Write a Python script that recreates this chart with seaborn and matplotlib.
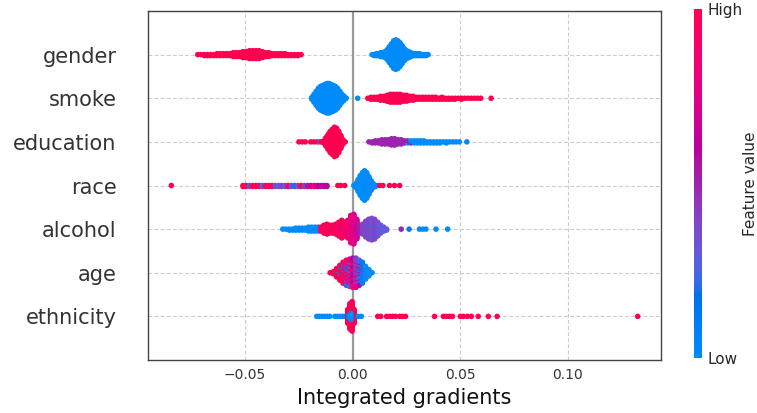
import numpy as np
import pandas as pd
import matplotlib
matplotlib.use("Agg")
import matplotlib.pyplot as plt
from matplotlib.colors import LinearSegmentedColormap, Normalize
from matplotlib.cm import ScalarMappable
import seaborn as sns

features = ["gender", "smoke", "education", "race", "alcohol", "age", "ethnicity"]

# Each entry: (integrated-gradient value, number of samples, normalised feature value 0=low .. 1=high)
gender = [
    (-0.0720, 1, 1.0), (-0.0705, 1, 1.0), (-0.0690, 2, 1.0), (-0.0675, 2, 1.0), (-0.0660, 2, 1.0),
    (-0.0645, 2, 1.0), (-0.0630, 3, 1.0), (-0.0615, 3, 1.0), (-0.0600, 3, 1.0), (-0.0585, 3, 1.0),
    (-0.0570, 3, 1.0), (-0.0555, 5, 1.0), (-0.0540, 5, 1.0), (-0.0525, 5, 1.0), (-0.0510, 7, 1.0),
    (-0.0495, 7, 1.0), (-0.0480, 9, 1.0), (-0.0465, 9, 1.0), (-0.0450, 9, 1.0), (-0.0435, 9, 1.0),
    (-0.0420, 7, 1.0), (-0.0405, 5, 1.0), (-0.0390, 5, 1.0), (-0.0375, 3, 1.0), (-0.0360, 3, 1.0),
    (-0.0345, 3, 1.0), (-0.0330, 3, 1.0), (-0.0315, 3, 1.0), (-0.0300, 2, 1.0), (-0.0285, 2, 1.0),
    (-0.0270, 2, 1.0), (-0.0255, 2, 1.0), (-0.0240, 1, 1.0),
    (0.0090, 1, 0.0), (0.0100, 2, 0.0), (0.0110, 3, 0.0), (0.0120, 3, 0.0), (0.0130, 5, 0.0),
    (0.0140, 5, 0.0), (0.0150, 7, 0.0), (0.0160, 11, 0.0), (0.0170, 17, 0.0), (0.0180, 23, 0.0),
    (0.0190, 29, 0.0), (0.0200, 31, 0.0), (0.0210, 29, 0.0), (0.0220, 25, 0.0), (0.0230, 19, 0.0),
    (0.0240, 13, 0.0), (0.0250, 9, 0.0), (0.0260, 7, 0.0), (0.0270, 5, 0.0), (0.0280, 3, 0.0),
    (0.0290, 3, 0.0), (0.0300, 3, 0.0), (0.0310, 3, 0.0), (0.0320, 2, 0.0), (0.0330, 2, 0.0),
    (0.0340, 2, 0.0), (0.0350, 1, 0.0),
]

smoke = [
    (-0.0190, 3, 0.0), (-0.0180, 9, 0.0), (-0.0170, 15, 0.0), (-0.0160, 21, 0.0), (-0.0150, 25, 0.0),
    (-0.0140, 27, 0.0), (-0.0130, 29, 0.0), (-0.0120, 31, 0.0), (-0.0110, 31, 0.0), (-0.0100, 29, 0.0),
    (-0.0090, 27, 0.0), (-0.0080, 25, 0.0), (-0.0070, 21, 0.0), (-0.0060, 15, 0.0), (-0.0050, 9, 0.0),
    (-0.0040, 5, 0.0), (-0.0030, 1, 0.0), (0.0023, 1, 0.0),
    (0.0070, 1, 1.0), (0.0085, 3, 1.0), (0.0100, 3, 1.0), (0.0115, 3, 1.0), (0.0130, 5, 1.0),
    (0.0145, 5, 1.0), (0.0160, 7, 1.0), (0.0175, 9, 1.0), (0.0190, 9, 1.0), (0.0205, 9, 1.0),
    (0.0220, 9, 1.0), (0.0235, 7, 1.0), (0.0250, 7, 1.0), (0.0265, 5, 1.0), (0.0280, 5, 1.0),
    (0.0295, 3, 1.0), (0.0310, 3, 1.0), (0.0325, 3, 1.0), (0.0340, 3, 1.0), (0.0355, 3, 1.0),
    (0.0370, 3, 1.0), (0.0385, 3, 1.0), (0.0400, 2, 1.0), (0.0415, 3, 1.0), (0.0430, 2, 1.0),
    (0.0445, 2, 1.0), (0.0460, 2, 1.0), (0.0475, 2, 1.0), (0.0490, 1, 1.0), (0.0505, 2, 1.0),
    (0.0520, 1, 1.0), (0.0535, 1, 1.0), (0.0550, 1, 1.0), (0.0565, 1, 1.0), (0.0580, 1, 1.0),
    (0.0595, 1, 1.0), (0.0643, 1, 1.0),
]

education = [
    (-0.0250, 1, 1.0), (-0.0235, 1, 1.0), (-0.0220, 1, 1.0), (-0.0195, 1, 1.0), (-0.0180, 1, 1.0),
    (-0.0165, 1, 1.0), (-0.0153, 1, 0.3),
    (-0.0145, 1, 1.0), (-0.0135, 3, 1.0), (-0.0125, 9, 1.0), (-0.0115, 15, 1.0), (-0.0105, 21, 1.0),
    (-0.0095, 25, 1.0), (-0.0085, 29, 1.0), (-0.0075, 27, 1.0), (-0.0065, 21, 1.0), (-0.0055, 13, 1.0),
    (-0.0045, 5, 1.0), (-0.0035, 1, 1.0),
    (0.0075, 1, 0.5), (0.0090, 2, 0.5), (0.0105, 3, 0.5), (0.0120, 3, 0.5), (0.0135, 5, 0.5),
    (0.0150, 5, 0.5), (0.0165, 5, 0.5), (0.0180, 7, 0.5), (0.0195, 7, 0.5), (0.0210, 5, 0.5),
    (0.0225, 5, 0.5), (0.0240, 3, 0.5), (0.0255, 2, 0.5), (0.0255, 1, 0.0),
    (0.0270, 2, 0.0), (0.0270, 1, 0.5), (0.0285, 3, 0.0), (0.0300, 3, 0.0), (0.0315, 3, 0.0),
    (0.0330, 3, 0.0), (0.0345, 2, 0.0), (0.0360, 2, 0.0), (0.0375, 2, 0.0), (0.0390, 2, 0.0),
    (0.0405, 2, 0.0), (0.0420, 1, 0.0), (0.0435, 2, 0.0), (0.0450, 1, 0.0), (0.0465, 1, 0.0),
    (0.0480, 1, 0.0), (0.0495, 1, 0.0), (0.0530, 1, 0.0),
]

race = [
    (-0.0843, 1, 1.0),
    (-0.0510, 2, 1.0), (-0.0495, 2, 1.0), (-0.0480, 2, 0.35), (-0.0465, 2, 1.0), (-0.0450, 2, 1.0),
    (-0.0435, 2, 0.9), (-0.0420, 2, 0.3), (-0.0405, 2, 1.0), (-0.0390, 2, 0.9), (-0.0375, 2, 1.0),
    (-0.0360, 2, 0.35), (-0.0345, 2, 0.3), (-0.0330, 2, 0.4), (-0.0315, 2, 0.3), (-0.0300, 2, 0.95),
    (-0.0285, 2, 0.35), (-0.0270, 2, 0.2), (-0.0255, 2, 0.35), (-0.0240, 2, 1.0), (-0.0225, 2, 0.4),
    (-0.0210, 2, 0.55), (-0.0195, 2, 0.65), (-0.0180, 2, 0.9), (-0.0165, 2, 0.6), (-0.0150, 2, 0.65),
    (-0.0135, 2, 0.6), (-0.0120, 2, 0.6),
    (-0.0069, 1, 1.0), (-0.0056, 1, 1.0), (-0.0037, 1, 1.0),
    (0.0005, 1, 0.0), (0.0015, 5, 0.0), (0.0025, 13, 0.0), (0.0035, 21, 0.0), (0.0045, 27, 0.0),
    (0.0055, 31, 0.0), (0.0065, 27, 0.0), (0.0075, 19, 0.0), (0.0085, 11, 0.0), (0.0095, 5, 0.0),
    (0.0105, 2, 0.0), (0.0113, 1, 0.0),
    (0.0125, 1, 1.0), (0.0140, 1, 1.0), (0.0171, 1, 1.0), (0.0194, 1, 1.0), (0.0218, 1, 1.0),
]

alcohol = [
    (-0.0325, 1, 0.0), (-0.0310, 1, 0.0), (-0.0295, 2, 0.0), (-0.0280, 2, 0.0), (-0.0265, 3, 0.0),
    (-0.0250, 3, 0.0), (-0.0235, 3, 0.0), (-0.0220, 3, 0.0), (-0.0205, 5, 0.0), (-0.0190, 5, 0.0),
    (-0.0175, 5, 0.0), (-0.0160, 5, 0.0),
    (-0.0148, 5, 0.95), (-0.0134, 9, 1.0), (-0.0120, 11, 0.9), (-0.0106, 9, 1.0), (-0.0093, 9, 0.95),
    (-0.0079, 9, 1.0), (-0.0079, 2, 0.6), (-0.0065, 15, 0.9), (-0.0051, 17, 1.0), (-0.0051, 2, 0.55),
    (-0.0037, 13, 0.9), (-0.0037, 2, 0.65), (-0.0023, 19, 0.85), (-0.0009, 29, 0.8), (0.0005, 31, 0.75),
    (0.0019, 21, 0.7), (0.0032, 9, 0.5), (0.0046, 11, 0.4), (0.0060, 17, 0.4), (0.0074, 18, 0.4),
    (0.0074, 3, 0.1), (0.0088, 23, 0.35), (0.0102, 18, 0.4), (0.0102, 3, 0.15), (0.0116, 15, 0.35),
    (0.0130, 9, 0.3), (0.0144, 5, 0.3), (0.0157, 2, 0.3),
    (0.0225, 1, 0.5), (0.0262, 1, 0.1), (0.0310, 1, 0.0), (0.0325, 1, 0.0), (0.0340, 1, 0.0),
    (0.0387, 1, 0.0), (0.0441, 1, 0.0),
]

age = [
    (-0.0105, 1, 1.0), (-0.0090, 3, 1.0),
    (-0.0075, 8, 1.0), (-0.0075, 1, 0.1),
    (-0.0060, 12, 1.0), (-0.0060, 3, 0.05),
    (-0.0045, 16, 0.95), (-0.0045, 5, 0.15),
    (-0.0030, 18, 0.9), (-0.0030, 7, 0.2),
    (-0.0015, 17, 0.8), (-0.0015, 10, 0.35),
    (0.0000, 17, 0.6), (0.0000, 12, 0.9),
    (0.0015, 18, 0.4), (0.0015, 11, 0.75),
    (0.0030, 17, 0.25), (0.0030, 8, 0.6),
    (0.0045, 16, 0.1), (0.0045, 5, 0.45),
    (0.0060, 11, 0.0), (0.0060, 2, 0.3),
    (0.0075, 7, 0.0), (0.0090, 1, 0.0),
]

ethnicity = [
    (-0.0167, 1, 0.0), (-0.0155, 1, 0.0), (-0.0143, 1, 0.0), (-0.0131, 1, 0.0), (-0.0119, 1, 0.0),
    (-0.0107, 1, 0.0), (-0.0083, 1, 0.0), (-0.0071, 1, 0.0), (-0.0059, 1, 0.0), (-0.0047, 1, 0.0),
    (-0.0035, 1, 0.0),
    (-0.0023, 15, 1.0), (-0.0013, 27, 1.0), (-0.0003, 31, 1.0), (0.0007, 15, 1.0),
    (-0.0018, 3, 0.05), (-0.0008, 7, 0.0),
    (0.0025, 1, 0.0), (0.0040, 1, 0.0),
    (0.0116, 1, 1.0), (0.0130, 1, 1.0), (0.0157, 1, 1.0), (0.0171, 1, 1.0), (0.0185, 1, 1.0),
    (0.0199, 1, 1.0), (0.0218, 1, 1.0), (0.0231, 1, 1.0), (0.0245, 1, 1.0), (0.0380, 1, 1.0),
    (0.0421, 1, 1.0), (0.0435, 1, 1.0), (0.0449, 1, 1.0), (0.0463, 1, 1.0), (0.0500, 1, 1.0),
    (0.0514, 1, 1.0), (0.0532, 1, 1.0), (0.0551, 1, 1.0), (0.0583, 1, 1.0), (0.0630, 1, 1.0),
    (0.0671, 1, 1.0), (0.1324, 1, 1.0),
]

rows = [gender, smoke, education, race, alcohol, age, ethnicity]


def lch_to_rgb(l, c, h):
    """CIE LCh (D65) -> clipped sRGB."""
    a, b = c * np.cos(h), c * np.sin(h)
    fy = (l + 16.0) / 116.0
    fx, fz = fy + a / 500.0, fy - b / 200.0
    d = 6.0 / 29.0

    def finv(t):
        return t ** 3 if t > d else 3 * d * d * (t - 4.0 / 29.0)

    xyz = np.array([0.95047 * finv(fx), finv(fy), 1.08883 * finv(fz)])
    m = np.array([[3.2406, -1.5372, -0.4986],
                  [-0.9689, 1.8758, 0.0415],
                  [0.0557, -0.2040, 1.0570]])
    lin = m @ xyz
    rgb = np.where(lin > 0.0031308, 1.055 * np.abs(lin) ** (1 / 2.4) - 0.055, 12.92 * lin)
    return np.clip(rgb, 0, 1)


def red_blue_cmap(nsteps=100):
    blue_lch = (54.0, 70.0, 4.6588)
    red_lch = (54.0, 90.0, 0.35470565 + 2 * np.pi)
    l_mid = 40.0
    ls = list(np.linspace(blue_lch[0], l_mid, nsteps // 2)) + list(np.linspace(l_mid, red_lch[0], nsteps // 2))
    cs = np.linspace(blue_lch[1], red_lch[1], nsteps)
    hs = np.linspace(blue_lch[2], red_lch[2], nsteps)
    colors = [lch_to_rgb(l, c, h) for l, c, h in zip(ls, cs, hs)]
    return LinearSegmentedColormap.from_list("red_blue", colors)


def beeswarm(entries, row, row_height=0.4):
    """Stack samples sharing an x value into alternating layers around the row."""
    columns = {}
    for x, n, v in entries:
        columns.setdefault(x, []).append((n, v))
    xs, offs, vals = [], [], []
    for x, parts in columns.items():
        keyed = []
        for j, (n, v) in enumerate(parts):
            keyed += [((k + 0.5) / n, j, v) for k in range(n)]
        keyed.sort()
        for layer, (_, _, v) in enumerate(keyed):
            off = np.ceil(layer / 2) * (1 if layer % 2 else -1)
            xs.append(x)
            offs.append(off)
            vals.append(v)
    offs = np.array(offs, dtype=float)
    offs *= 0.9 * (row_height / (np.abs(offs).max() + 1))
    return pd.DataFrame({"feature": features[row], "x": xs, "y": row + offs, "value": vals})


df = pd.concat([beeswarm(r, i) for i, r in enumerate(rows)], ignore_index=True)
cmap = red_blue_cmap()

sns.set_theme(style="whitegrid")
plt.rcParams["font.family"] = ["DejaVu Sans"]

fig = plt.figure(figsize=(7.57, 4.13), dpi=100)
ax = fig.add_axes([148 / 757, 53 / 413, 513 / 757, 349 / 413])

ax.axvline(0, color="#999999", lw=1.6, zorder=1)
sns.scatterplot(data=df, x="x", y="y", hue="value", palette=cmap, hue_norm=(0, 1),
                s=16, linewidth=0, alpha=1, legend=False, ax=ax, zorder=3)

ax.set_ylim(7, -1)
ax.set_yticks(range(len(features)))
ax.set_yticklabels(features, fontsize=15, color="#333333")
ax.set_xticks([-0.05, 0.0, 0.05, 0.10])
ax.set_xticklabels(["\u22120.05", "0.00", "0.05", "0.10"], fontsize=10, color="#333333")
ax.set_ylabel("")
ax.set_xlabel("Integrated gradients", fontsize=15, color="#111111")
ax.grid(True, linestyle=(0, (3.5, 2)), color="#cccccc", linewidth=0.8, zorder=0)
ax.set_axisbelow(True)
for sp in ax.spines.values():
    sp.set_visible(True)
    sp.set_color("#444444")
    sp.set_linewidth(1.0)
ax.tick_params(axis="both", length=3, width=0.8, color="#666666", pad=3)
ax.tick_params(axis="y", pad=19.5)

cax = fig.add_axes([694 / 757, 55 / 413, 8 / 757, 349 / 413])
sm = ScalarMappable(norm=Normalize(0, 1), cmap=cmap)
sm.set_array([])
cb = fig.colorbar(sm, cax=cax, ticks=[0, 1])
cb.set_ticklabels(["Low", "High"])
cb.ax.tick_params(labelsize=11, length=0, pad=4)
cb.set_label("Feature value", size=11, labelpad=0)
cb.outline.set_visible(False)

fig.savefig("out.png", dpi=100)
